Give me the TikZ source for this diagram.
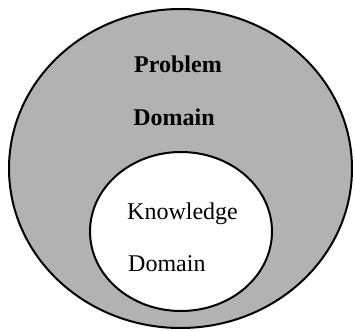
\documentclass[tikz,border=0pt]{standalone}
\usepackage{fontspec}
\setmainfont{Liberation Serif}
\usetikzlibrary{shapes.geometric}
\begin{document}
\begin{tikzpicture}[x=1pt,y=-1pt,
  region/.style={ellipse, draw=black, line width=2pt, inner sep=0pt},
  lbl/.style={font=\fontsize{24}{28}\selectfont, inner sep=0pt},
  blbl/.style={font=\fontsize{24}{28}\selectfont\bfseries, inner sep=0pt}]
\useasboundingbox (0,0) rectangle (356,330);
\node[region, fill=black!30, minimum width=343pt, minimum height=319pt] (problem) at (180.5,168.5) {};
\node[region, fill=white, minimum width=182pt, minimum height=159pt] (knowledge) at (181,231.5) {};
\node[blbl, anchor=base] (t1) at (178,72) {Problem};
\node[blbl, anchor=base] (t2) at (174,125) {Domain};
\node[lbl, anchor=base west] (t3) at (127,219) {Knowledge};
\node[lbl, anchor=base west] (t4) at (128,271) {Domain};
\end{tikzpicture}
\end{document}
